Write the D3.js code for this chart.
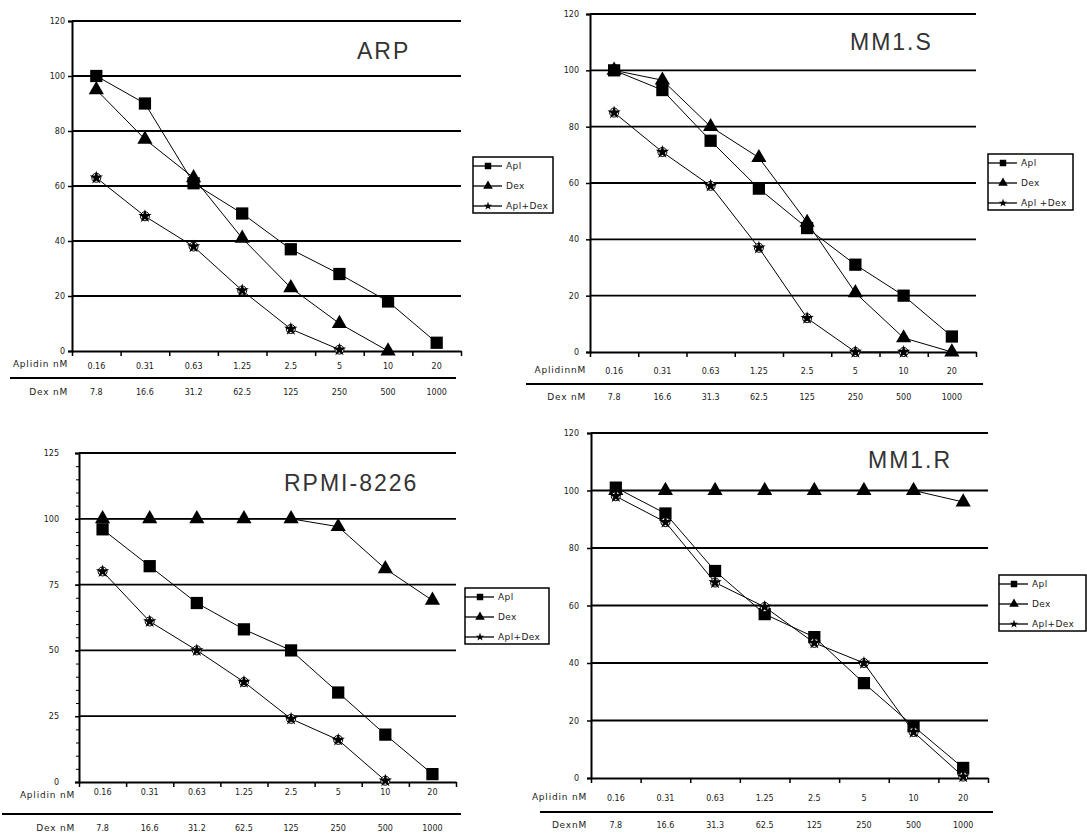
<!DOCTYPE html>
<html>
<head>
<meta charset="utf-8">
<script src="https://cdn.jsdelivr.net/npm/d3@7"></script>
<style>
  body { margin: 0; background: #fff; }
  svg { display: block; }
  .lbl { font-family: "DejaVu Sans", sans-serif; font-size: 8px; fill: #1a1a1a; }
  .row { font-family: "DejaVu Sans", sans-serif; font-size: 9px; fill: #1a1a1a; letter-spacing: 0.8px; }
  .leg { font-family: "DejaVu Sans", sans-serif; font-size: 9px; fill: #1a1a1a; letter-spacing: 0.4px; }
  .title { font-family: "Liberation Sans", sans-serif; font-size: 23px; fill: #333; letter-spacing: 2px; }
</style>
</head>
<body>
<div id="chart"></div>
<script>
// Data (% viability per dose step)
const aplidinDoses = ["0.16", "0.31", "0.63", "1.25", "2.5", "5", "10", "20"];
const dexDosesA = ["7.8", "16.6", "31.2", "62.5", "125", "250", "500", "1000"];
const dexDosesB = ["7.8", "16.6", "31.3", "62.5", "125", "250", "500", "1000"];

const arpApl = [100, 90, 61, 50, 37, 28, 18, 3];
const arpDex = [95, 77, 63, 41, 23, 10, 0, null];
const arpCombo = [63, 49, 38, 22, 8, 0.5, null, null];

const mm1sApl = [100, 93, 75, 58, 44, 31, 20, 5.5];
const mm1sDex = [100, 96.5, 80, 69, 46, 21, 5, 0];
const mm1sCombo = [85, 71, 59, 37, 12, 0, 0, null];

const rpmiApl = [96, 82, 68, 58, 50, 34, 18, 3];
const rpmiDex = [100, 100, 100, 100, 100, 97, 81, 69];
const rpmiCombo = [80, 61, 50, 38, 24, 16, 0.5, null];

const mm1rApl = [101, 92, 72, 57, 49, 33, 18, 3.5];
const mm1rDex = [100, 100, 100, 100, 100, 100, 100, 96];
const mm1rCombo = [98, 89, 68, 59.5, 47, 40, 16, 0.5];

const ticks120 = [0, 20, 40, 60, 80, 100, 120];
const ticks125 = [0, 25, 50, 75, 100, 125];

const W = 1087, H = 835;

const svg = d3.select("#chart").append("svg")
  .attr("width", W)
  .attr("height", H);

// Panel layout (pixel positions only)
const panels = [
  { title: "ARP", apl: arpApl, dex: arpDex, combo: arpCombo, dexLabels: dexDosesA,
    yMax: 120, yTicks: ticks120, minor: false,
    left: 72, right: 461, top: 21, bottom: 351, pad: 3,
    aplY: 366, rowY: 364, sepY: 378, dexY: 392, sepX1: 10, sepX2: 456,
    rowA: "Aplidin nM", rowD: "Dex nM",
    titleX: 357, titleY: 59,
    lx: 473, ly: 157, lw: 80, legend: ["Apl", "Dex", "Apl+Dex"] },
  { title: "MM1.S", apl: mm1sApl, dex: mm1sDex, combo: mm1sCombo, dexLabels: dexDosesB,
    yMax: 120, yTicks: ticks120, minor: false,
    left: 590, right: 976, top: 14, bottom: 352, pad: 7,
    aplY: 371, rowY: 370, sepY: 384, dexY: 397, sepX1: 526, sepX2: 983,
    rowA: "AplidinnM", rowD: "Dex nM",
    titleX: 850, titleY: 50,
    lx: 988, ly: 154, lw: 85, legend: ["Apl", "Dex", "Apl +Dex"] },
  { title: "RPMI-8226", apl: rpmiApl, dex: rpmiDex, combo: rpmiCombo, dexLabels: dexDosesA,
    yMax: 125, yTicks: ticks125, minor: true,
    left: 79, right: 456, top: 453, bottom: 782, pad: 16,
    aplY: 792, rowY: 795, sepY: 814, dexY: 828, sepX1: 2, sepX2: 461,
    rowA: "Aplidin nM", rowD: "Dex nM",
    titleX: 284, titleY: 491,
    lx: 465, ly: 588, lw: 84, legend: ["Apl", "Dex", "Apl+Dex"] },
  { title: "MM1.R", apl: mm1rApl, dex: mm1rDex, combo: mm1rCombo, dexLabels: dexDosesB,
    yMax: 120, yTicks: ticks120, minor: false,
    left: 591, right: 988, top: 433, bottom: 778, pad: 8,
    aplY: 798, rowY: 797, sepY: 812, dexY: 825, sepX1: 540, sepX2: 993,
    rowA: "Aplidin nM", rowD: "DexnM",
    titleX: 868, titleY: 468,
    lx: 999, ly: 575, lw: 87, legend: ["Apl", "Dex", "Apl+Dex"] }
];

const sqSym = d3.symbol().type(d3.symbolSquare);
const triSym = d3.symbol().type(d3.symbolTriangle);
const starSym = d3.symbol().type(d3.symbolStar);

// draw one marker of a series type at (0,0) of group g
function marker(g, kind, small) {
  if (kind === 0) {
    g.append("path").attr("d", sqSym.size(small ? 42 : 150)()).attr("fill", "#000");
  } else if (kind === 1) {
    g.append("path").attr("d", triSym.size(small ? 40 : 100)()).attr("fill", "#000");
  } else {
    if (!small) {
      g.append("circle").attr("r", 4.5).attr("fill", "#fff").attr("stroke", "#000").attr("stroke-width", 1);
    }
    g.append("path").attr("d", starSym.size(small ? 22 : 55)()).attr("fill", "#000");
  }
}

panels.forEach(p => {
  const g = svg.append("g");

  // Scales
  const x = d3.scaleBand().domain(d3.range(8)).range([p.left, p.right]);
  const xb = d3.scaleLinear().domain([0, 8]).range([p.left, p.right]);
  const y = d3.scaleLinear().domain([0, p.yMax]).range([p.bottom, p.top]);
  const cx = i => x(i) + x.bandwidth() / 2;

  // Gridlines
  g.append("g")
    .selectAll("line")
    .data(p.yTicks.filter(v => v > 0))
    .join("line")
    .attr("x1", p.left).attr("x2", p.right)
    .attr("y1", d => y(d)).attr("y2", d => y(d))
    .attr("stroke", "#000").attr("stroke-width", 1.8);

  // Minor ticks on the y axis
  if (p.minor) {
    g.append("g")
      .attr("transform", `translate(${p.left},0)`)
      .call(d3.axisLeft(y).tickValues(d3.range(0, p.yMax + 1, 5)).tickSize(3).tickFormat(""))
      .call(a => a.select(".domain").remove())
      .selectAll("line").attr("stroke", "#000");
  }

  // Y axis
  const ya = g.append("g")
    .attr("transform", `translate(${p.left},0)`)
    .call(d3.axisLeft(y).tickValues(p.yTicks).tickSize(4).tickPadding(p.pad));
  ya.select(".domain").attr("stroke", "#000").attr("stroke-width", 2);
  ya.selectAll("line").attr("stroke", "#000").attr("stroke-width", 1.5);
  ya.selectAll("text").attr("class", "lbl").attr("font-size", null).attr("font-family", null);

  // X axis with ticks between the dose steps
  const xa = g.append("g")
    .attr("transform", `translate(0,${p.bottom})`)
    .call(d3.axisBottom(xb).tickValues(d3.range(0, 9)).tickSize(5).tickSizeOuter(0).tickFormat(""));
  xa.select(".domain").attr("stroke", "#000").attr("stroke-width", 2);
  xa.selectAll("line").attr("stroke", "#000").attr("stroke-width", 1.5);

  // Dose rows
  g.append("g").selectAll("text")
    .data(aplidinDoses)
    .join("text")
    .attr("class", "lbl")
    .attr("x", (d, i) => cx(i)).attr("y", p.aplY)
    .attr("text-anchor", "middle").attr("dominant-baseline", "middle")
    .text(d => d);
  g.append("g").selectAll("text")
    .data(p.dexLabels)
    .join("text")
    .attr("class", "lbl")
    .attr("x", (d, i) => cx(i)).attr("y", p.dexY)
    .attr("text-anchor", "middle").attr("dominant-baseline", "middle")
    .text(d => d);
  g.append("text").attr("class", "row")
    .attr("x", p.left - 4).attr("y", p.rowY)
    .attr("text-anchor", "end").attr("dominant-baseline", "middle")
    .text(p.rowA);
  g.append("text").attr("class", "row")
    .attr("x", p.left - 4).attr("y", p.dexY)
    .attr("text-anchor", "end").attr("dominant-baseline", "middle")
    .text(p.rowD);
  g.append("line")
    .attr("x1", p.sepX1).attr("x2", p.sepX2)
    .attr("y1", p.sepY).attr("y2", p.sepY)
    .attr("stroke", "#000").attr("stroke-width", 1.8);

  // Series lines and markers
  const line = d3.line()
    .defined(d => d != null)
    .x((d, i) => cx(i))
    .y(d => y(d));
  const series = [p.apl, p.dex, p.combo];
  series.forEach(vals => {
    g.append("path")
      .datum(vals)
      .attr("fill", "none")
      .attr("stroke", "#000")
      .attr("stroke-width", 1)
      .attr("d", line);
  });
  series.forEach((vals, k) => {
    vals.forEach((v, i) => {
      if (v == null) return;
      marker(g.append("g").attr("transform", `translate(${cx(i)},${y(v)})`), k, false);
    });
  });

  // Title
  g.append("text")
    .attr("class", "title")
    .attr("x", p.titleX).attr("y", p.titleY)
    .text(p.title);

  // Legend
  const lg = g.append("g").attr("transform", `translate(${p.lx},${p.ly})`);
  lg.append("rect")
    .attr("width", p.lw).attr("height", 56)
    .attr("fill", "#fff").attr("stroke", "#000").attr("stroke-width", 1.5);
  p.legend.forEach((name, k) => {
    const ry = 9 + k * 20;
    lg.append("line")
      .attr("x1", 0).attr("x2", 29).attr("y1", ry).attr("y2", ry)
      .attr("stroke", "#000").attr("stroke-width", 1.3);
    marker(lg.append("g").attr("transform", `translate(15,${ry})`), k, true);
    lg.append("text").attr("class", "leg")
      .attr("x", 33).attr("y", ry)
      .attr("dominant-baseline", "middle")
      .text(name);
  });
});
</script>
</body>
</html>
